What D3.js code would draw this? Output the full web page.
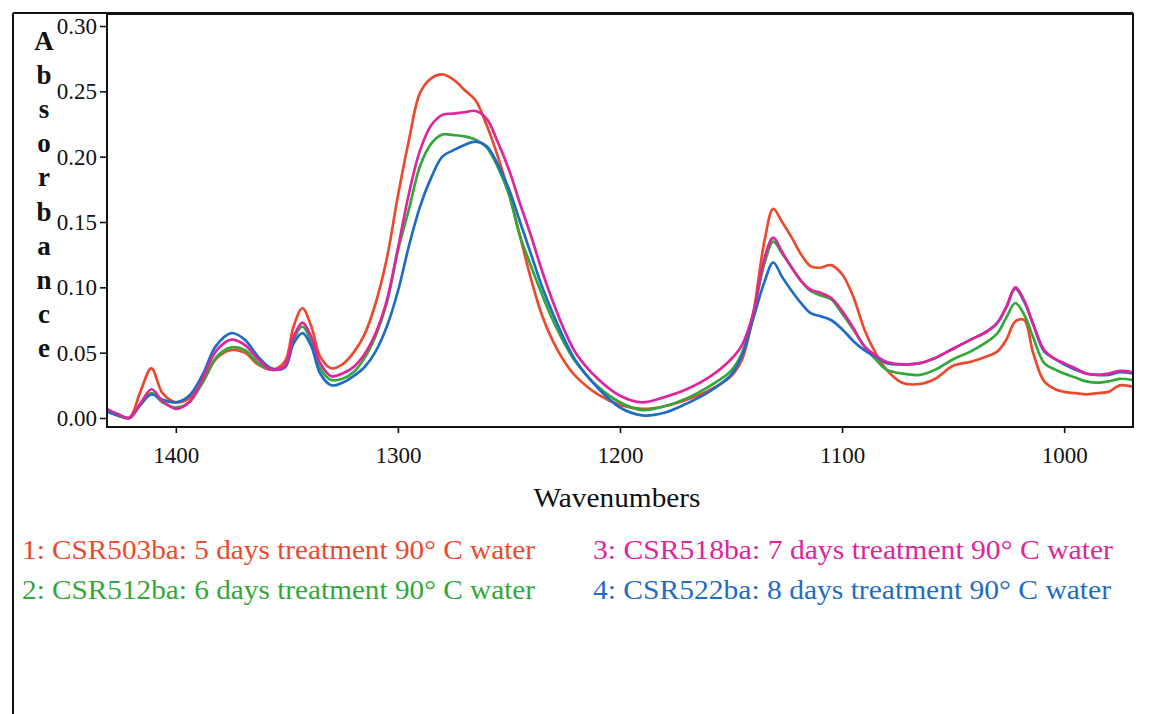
<!DOCTYPE html>
<html>
<head>
<meta charset="utf-8">
<script src="https://cdn.jsdelivr.net/npm/d3@7/dist/d3.min.js"></script>
<style>
  html, body { margin: 0; padding: 0; background: #ffffff; }
  svg { display: block; font-family: "Liberation Serif", "Times New Roman", serif; }
</style>
</head>
<body>
<svg id="chart" width="1151" height="714"></svg>
<script>
// ---------------- data ----------------
const wavenumbers = [
  1431,1426,1421,1416,1411,1406,1400,1394,1388,1382,
  1375,1369,1363,1357,1351,1347,1343,1339,1335,1330,
  1325,1320,1315,1310,1305,1300,1295,1290,1285,1280,
  1275,1270,1265,1260,1255,1250,1245,1240,1235,1230,
  1225,1220,1210,1200,1190,1180,1170,1160,1150,1145,
  1140,1135,1131,1127,1123,1118,1114,1110,1105,1100,
  1095,1090,1085,1080,1073,1065,1058,1050,1042,1035,
  1030,1026,1022,1018,1014,1009,1004,1000,995,990,
  985,980,975,969
];
const csr503 = [
  0.006,0.002,0.000,0.020,0.038,0.019,0.012,0.015,0.027,0.045,
  0.052,0.050,0.041,0.037,0.043,0.070,0.084,0.070,0.047,0.038,
  0.041,0.050,0.064,0.088,0.122,0.170,0.213,0.249,0.260,0.263,
  0.259,0.251,0.243,0.224,0.200,0.172,0.139,0.106,0.078,0.058,
  0.043,0.032,0.018,0.010,0.007,0.009,0.014,0.021,0.032,0.045,
  0.080,0.135,0.160,0.150,0.139,0.124,0.116,0.115,0.117,0.110,
  0.093,0.068,0.050,0.037,0.027,0.026,0.030,0.040,0.043,0.047,
  0.051,0.060,0.074,0.075,0.050,0.028,0.022,0.020,0.019,0.018,
  0.019,0.020,0.025,0.024
];
const csr512 = [
  0.005,0.002,0.000,0.010,0.019,0.012,0.008,0.012,0.027,0.046,
  0.054,0.052,0.042,0.037,0.039,0.060,0.070,0.058,0.038,0.029,
  0.030,0.035,0.046,0.063,0.088,0.128,0.160,0.193,0.210,0.217,
  0.2165,0.2155,0.213,0.207,0.192,0.171,0.139,0.116,0.094,0.074,
  0.057,0.043,0.024,0.012,0.006,0.009,0.015,0.024,0.036,0.050,
  0.080,0.118,0.135,0.126,0.116,0.104,0.097,0.094,0.091,0.080,
  0.068,0.055,0.045,0.037,0.034,0.033,0.037,0.045,0.051,0.058,
  0.065,0.077,0.088,0.079,0.062,0.042,0.037,0.034,0.031,0.028,
  0.027,0.028,0.030,0.029
];
const csr518 = [
  0.007,0.003,0.000,0.011,0.022,0.013,0.007,0.012,0.030,0.051,
  0.060,0.056,0.045,0.037,0.040,0.062,0.073,0.062,0.042,0.032,
  0.034,0.039,0.049,0.065,0.090,0.130,0.172,0.205,0.224,0.232,
  0.233,0.234,0.235,0.229,0.211,0.190,0.164,0.139,0.112,0.088,
  0.067,0.050,0.030,0.017,0.012,0.016,0.022,0.031,0.045,0.056,
  0.080,0.122,0.138,0.127,0.116,0.104,0.098,0.096,0.092,0.082,
  0.069,0.055,0.048,0.043,0.041,0.042,0.046,0.053,0.060,0.066,
  0.073,0.085,0.100,0.090,0.072,0.052,0.045,0.042,0.038,0.034,
  0.033,0.034,0.036,0.035
];
const csr522 = [
  0.005,0.002,0.000,0.010,0.018,0.014,0.012,0.017,0.033,0.055,
  0.065,0.060,0.047,0.038,0.0385,0.057,0.065,0.055,0.034,0.025,
  0.027,0.032,0.039,0.051,0.070,0.097,0.132,0.162,0.184,0.200,
  0.205,0.209,0.2115,0.208,0.194,0.175,0.150,0.125,0.100,0.079,
  0.060,0.044,0.023,0.008,0.002,0.004,0.011,0.020,0.033,0.048,
  0.076,0.104,0.119,0.108,0.098,0.087,0.080,0.078,0.075,0.068,
  0.059,0.052,0.047,0.042,0.041,0.042,0.046,0.053,0.060,0.066,
  0.073,0.085,0.099,0.089,0.072,0.051,0.045,0.041,0.037,0.034,
  0.033,0.033,0.035,0.034
];
const seriesNames = [
  "1: CSR503ba: 5 days treatment 90° C water",
  "2: CSR512ba: 6 days treatment 90° C water",
  "3: CSR518ba: 7 days treatment 90° C water",
  "4: CSR522ba: 8 days treatment 90° C water"
];
const xTicks = [1400, 1300, 1200, 1100, 1000];
const yTicks = [0.00, 0.05, 0.10, 0.15, 0.20, 0.25, 0.30];
const yTitleLetters = ["A","b","s","o","r","b","a","n","c","e"];
const xTitle = "Wavenumbers";

// ---------------- layout ----------------
const svg = d3.select("#chart");
const plot = {left: 107, right: 1133, top: 14, bottom: 427};
const colors = ["#ec4a2e", "#33a83a", "#e0259c", "#1f6cc6"];

const x = d3.scaleLinear().domain([1431, 969]).range([plot.left, plot.right]);
const y = d3.scaleLinear().domain([-0.0069, 0.3092]).range([plot.bottom, plot.top]);

// outer page frame (left + top)
svg.append("line").attr("x1", 13).attr("x2", 13).attr("y1", 13).attr("y2", 714)
  .attr("stroke", "#111").attr("stroke-width", 2);
svg.append("line").attr("x1", 13).attr("x2", plot.right).attr("y1", 13).attr("y2", 13)
  .attr("stroke", "#111").attr("stroke-width", 2);

// series
const allSeries = [csr503, csr512, csr518, csr522];
const drawOrder = [0, 1, 3, 2];
const line = d3.line()
  .x(d => x(d.w))
  .y(d => y(d.v))
  .curve(d3.curveCatmullRom.alpha(0.5));

svg.append("clipPath").attr("id", "clip")
  .append("rect").attr("x", plot.left).attr("y", plot.top)
  .attr("width", plot.right - plot.left).attr("height", plot.bottom - plot.top);

const g = svg.append("g").attr("clip-path", "url(#clip)");
drawOrder.forEach(i => {
  const data = wavenumbers.map((w, k) => ({w, v: allSeries[i][k]}));
  g.append("path").datum(data)
    .attr("d", line)
    .attr("fill", "none")
    .attr("stroke", colors[i])
    .attr("stroke-width", 2.7)
    .attr("stroke-linejoin", "round");
});

// plot frame
svg.append("rect")
  .attr("x", plot.left).attr("y", plot.top)
  .attr("width", plot.right - plot.left).attr("height", plot.bottom - plot.top)
  .attr("fill", "none").attr("stroke", "#111").attr("stroke-width", 2);

// y axis
const yAxis = d3.axisLeft(y).tickValues(yTicks).tickFormat(d3.format(".2f"))
  .tickSize(7).tickPadding(3).tickSizeOuter(0);
const ya = svg.append("g").attr("transform", `translate(${plot.left},0)`).call(yAxis);
ya.select(".domain").remove();
ya.selectAll("line").attr("stroke", "#111").attr("stroke-width", 1.6);
ya.selectAll("text").attr("font-size", 23).attr("fill", "#111")
  .attr("font-family", "Liberation Serif");

// x axis
const xAxis = d3.axisBottom(x).tickValues(xTicks).tickFormat(d3.format("d"))
  .tickSize(6).tickPadding(14).tickSizeOuter(0);
const xa = svg.append("g").attr("transform", `translate(0,${plot.bottom})`).call(xAxis);
xa.select(".domain").remove();
xa.selectAll("line").attr("stroke", "#111").attr("stroke-width", 1.6);
xa.selectAll("text").attr("font-size", 23).attr("fill", "#111")
  .attr("font-family", "Liberation Serif");

// y title (stacked letters)
svg.append("g").selectAll("text").data(yTitleLetters).join("text")
  .attr("x", 44)
  .attr("y", (d, i) => 50 + i * 34.1)
  .attr("text-anchor", "middle")
  .attr("font-size", 27)
  .attr("font-weight", "bold")
  .attr("fill", "#111")
  .text(d => d);

// x title
svg.append("text")
  .attr("x", 617).attr("y", 507)
  .attr("text-anchor", "middle")
  .attr("font-size", 28)
  .attr("fill", "#111")
  .attr("textLength", 167)
  .attr("lengthAdjust", "spacingAndGlyphs")
  .text(xTitle);

// legend
const legendPos = [
  {x: 22, y: 559, w: 513},
  {x: 22, y: 599, w: 513},
  {x: 593, y: 559, w: 520},
  {x: 593, y: 599, w: 518}
];
seriesNames.forEach((name, i) => {
  svg.append("text")
    .attr("x", legendPos[i].x).attr("y", legendPos[i].y)
    .attr("font-size", 28)
    .attr("fill", colors[i])
    .attr("textLength", legendPos[i].w)
    .attr("lengthAdjust", "spacingAndGlyphs")
    .text(name);
});
</script>
</body>
</html>
